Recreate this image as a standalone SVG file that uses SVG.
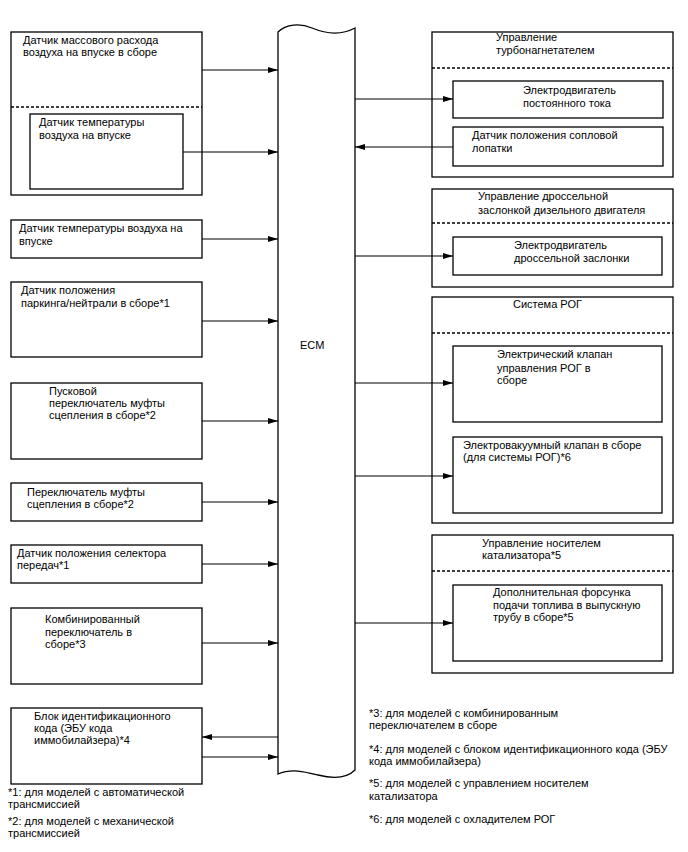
<svg xmlns="http://www.w3.org/2000/svg" width="688" height="852" viewBox="0 0 688 852">
<defs>
<marker id="ah" markerWidth="10" markerHeight="6" refX="10" refY="3" orient="auto" markerUnits="userSpaceOnUse">
<path d="M0,0 L10,3 L0,6 Z" fill="#000"/>
</marker>
<style>
.b{fill:#fff;stroke:#000;stroke-width:1.3}
.d{stroke:#000;stroke-width:1.3;stroke-dasharray:3,2;fill:none}
.t{font-family:"Liberation Sans",Arial,sans-serif;font-size:11px;fill:#000}
.c{stroke:#000;stroke-width:1.2;fill:none;marker-end:url(#ah)}
</style>
</defs>
<rect width="688" height="852" fill="#fff"/>

<g id="ecm">
<path class="b" d="M278,32 C286,24 300,23 312,28 S340,36 355,28 L355,770 C345,780 330,778 318,775 S292,768 278,774 Z"/>
<text class="t" x="300" y="349">ECM</text>
</g>

<g id="maf">
<rect class="b" x="11" y="32" width="191" height="163"/>
<line class="d" x1="11" y1="107" x2="202" y2="107"/>
<text class="t" x="23" y="44">Датчик массового расхода</text>
<text class="t" x="23" y="56">воздуха на впуске в сборе</text>
</g>
<g id="iat1">
<rect class="b" x="30" y="114" width="153" height="75"/>
<text class="t" x="39" y="126">Датчик температуры</text>
<text class="t" x="39" y="139">воздуха на впуске</text>
</g>
<g id="iat2">
<rect class="b" x="11" y="220" width="191" height="38"/>
<text class="t" x="19" y="232">Датчик температуры воздуха на</text>
<text class="t" x="19" y="245">впуске</text>
</g>
<g id="pnp">
<rect class="b" x="11" y="282" width="191" height="75"/>
<text class="t" x="21" y="294">Датчик положения</text>
<text class="t" x="21" y="307">паркинга/нейтрали в сборе*1</text>
</g>
<g id="clutch-start">
<rect class="b" x="11" y="383" width="191" height="76"/>
<text class="t" x="49" y="395">Пусковой</text>
<text class="t" x="49" y="407">переключатель муфты</text>
<text class="t" x="49" y="419">сцепления в сборе*2</text>
</g>
<g id="clutch">
<rect class="b" x="11" y="483" width="191" height="38"/>
<text class="t" x="27" y="496">Переключатель муфты</text>
<text class="t" x="27" y="508">сцепления в сборе*2</text>
</g>
<g id="shift">
<rect class="b" x="11" y="545" width="191" height="38"/>
<text class="t" x="17" y="557">Датчик положения селектора</text>
<text class="t" x="17" y="569">передач*1</text>
</g>
<g id="combo">
<rect class="b" x="11" y="608" width="191" height="76"/>
<text class="t" x="45" y="623">Комбинированный</text>
<text class="t" x="45" y="636">переключатель в</text>
<text class="t" x="45" y="648">сборе*3</text>
</g>
<g id="immo">
<rect class="b" x="11" y="708" width="191" height="76"/>
<text class="t" x="34" y="720">Блок идентификационного</text>
<text class="t" x="34" y="732">кода (ЭБУ кода</text>
<text class="t" x="34" y="744">иммобилайзера)*4</text>
</g>

<g id="turbo">
<rect class="b" x="432" y="32" width="241" height="145"/>
<line class="d" x1="432" y1="68" x2="673" y2="68"/>
<text class="t" x="496" y="41">Управление</text>
<text class="t" x="496" y="54">турбонагнетателем</text>
</g>
<g id="dc-motor">
<rect class="b" x="453" y="81" width="210" height="37"/>
<text class="t" x="523" y="94">Электродвигатель</text>
<text class="t" x="523" y="107">постоянного тока</text>
</g>
<g id="vane">
<rect class="b" x="453" y="127" width="210" height="39"/>
<text class="t" x="472" y="139">Датчик положения сопловой</text>
<text class="t" x="472" y="152">лопатки</text>
</g>
<g id="throttle">
<rect class="b" x="432" y="189" width="241" height="98"/>
<line class="d" x1="432" y1="223" x2="673" y2="223"/>
<text class="t" x="478" y="200">Управление дроссельной</text>
<text class="t" x="478" y="214">заслонкой дизельного двигателя</text>
</g>
<g id="throttle-motor">
<rect class="b" x="453" y="237" width="209" height="38"/>
<text class="t" x="514" y="249">Электродвигатель</text>
<text class="t" x="514" y="262">дроссельной заслонки</text>
</g>
<g id="egr">
<rect class="b" x="432" y="297" width="241" height="226"/>
<line class="d" x1="432" y1="333" x2="673" y2="333"/>
<text class="t" x="513" y="308">Система РОГ</text>
</g>
<g id="egr-valve">
<rect class="b" x="453" y="346" width="209" height="76"/>
<text class="t" x="497" y="358">Электрический клапан</text>
<text class="t" x="497" y="372">управления РОГ в</text>
<text class="t" x="497" y="384">сборе</text>
</g>
<g id="vsv">
<rect class="b" x="453" y="437" width="209" height="76"/>
<text class="t" x="463" y="449">Электровакуумный клапан в сборе</text>
<text class="t" x="463" y="461">(для системы РОГ)*6</text>
</g>
<g id="cat">
<rect class="b" x="432" y="535" width="241" height="138"/>
<line class="d" x1="432" y1="571" x2="673" y2="571"/>
<text class="t" x="482" y="547">Управление носителем</text>
<text class="t" x="482" y="559">катализатора*5</text>
</g>
<g id="injector">
<rect class="b" x="453" y="585" width="209" height="76"/>
<text class="t" x="493" y="596">Дополнительная форсунка</text>
<text class="t" x="493" y="609">подачи топлива в выпускную</text>
<text class="t" x="493" y="621">трубу в сборе*5</text>
</g>

<g id="connectors">
<line class="c" x1="202" y1="70" x2="278" y2="70"/>
<line class="c" x1="183" y1="152" x2="278" y2="152"/>
<line class="c" x1="202" y1="239" x2="278" y2="239"/>
<line class="c" x1="202" y1="321" x2="278" y2="321"/>
<line class="c" x1="202" y1="421" x2="278" y2="421"/>
<line class="c" x1="202" y1="502" x2="278" y2="502"/>
<line class="c" x1="202" y1="564" x2="278" y2="564"/>
<line class="c" x1="202" y1="643" x2="278" y2="643"/>
<line class="c" x1="278" y1="737" x2="202" y2="737"/>
<line class="c" x1="202" y1="757" x2="278" y2="757"/>
<line class="c" x1="355" y1="99" x2="453" y2="99"/>
<line class="c" x1="453" y1="147" x2="355" y2="147"/>
<line class="c" x1="355" y1="256" x2="453" y2="256"/>
<line class="c" x1="355" y1="383" x2="453" y2="383"/>
<line class="c" x1="355" y1="476" x2="453" y2="476"/>
<line class="c" x1="355" y1="623" x2="453" y2="623"/>
</g>

<g id="notes">
<text class="t" x="8" y="796">*1: для моделей с автоматической</text>
<text class="t" x="8" y="808">трансмиссией</text>
<text class="t" x="8" y="825">*2: для моделей с механической</text>
<text class="t" x="8" y="837">трансмиссией</text>
<text class="t" x="369" y="717">*3: для моделей с комбинированным</text>
<text class="t" x="369" y="729">переключателем в сборе</text>
<text class="t" x="369" y="753">*4: для моделей с блоком идентификационного кода (ЭБУ</text>
<text class="t" x="369" y="765">кода иммобилайзера)</text>
<text class="t" x="369" y="787">*5: для моделей с управлением носителем</text>
<text class="t" x="369" y="800">катализатора</text>
<text class="t" x="369" y="823">*6: для моделей с охладителем РОГ</text>
</g>
</svg>
